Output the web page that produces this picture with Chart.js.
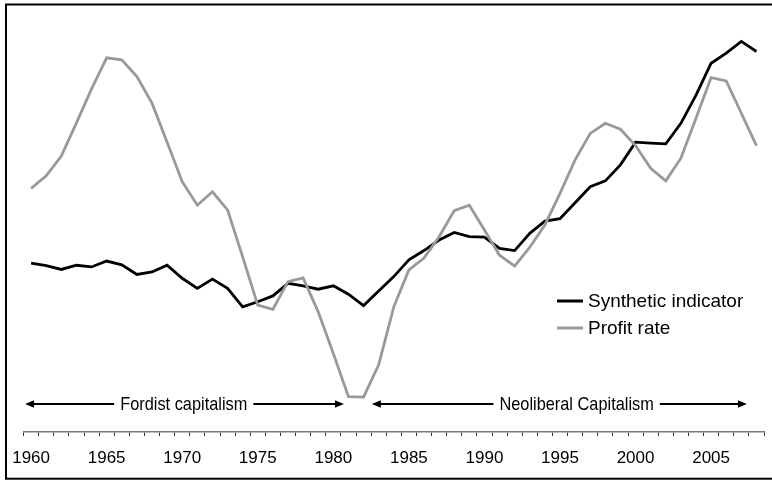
<!DOCTYPE html>
<html><head><meta charset="utf-8">
<script src="https://cdn.jsdelivr.net/npm/chart.js@4/dist/chart.umd.min.js"></script>
<style>html,body{margin:0;padding:0;background:#fff}#wrap{position:relative;width:772px;height:481px}</style>
</head><body><div id="wrap"><canvas id="c" width="772" height="481"></canvas></div>
<script>
const years = [1960,1961,1962,1963,1964,1965,1966,1967,1968,1969,1970,1971,1972,1973,1974,1975,1976,1977,1978,1979,1980,1981,1982,1983,1984,1985,1986,1987,1988,1989,1990,1991,1992,1993,1994,1995,1996,1997,1998,1999,2000,2001,2002,2003,2004,2005,2006,2007,2008];
const synthetic = [40.2,39.6,38.7,39.7,39.3,40.7,39.8,37.5,38.1,39.7,36.6,34.2,36.4,34.2,29.8,31.0,32.4,35.4,34.8,34.0,34.8,32.8,30.1,33.6,37.0,41.0,43.2,45.7,47.5,46.5,46.4,43.7,43.2,47.3,50.2,50.8,54.6,58.4,59.8,63.6,69.0,68.8,68.6,73.5,80.2,87.8,90.2,93.0,90.6];
const profitRate = [58.0,61.0,65.7,73.6,81.7,89.1,88.6,84.6,78.3,69.0,59.6,54.0,57.2,52.9,41.7,30.2,29.2,35.8,36.7,28.6,18.7,8.4,8.3,16.0,29.8,38.6,41.4,46.5,52.7,54.0,48.1,42.1,39.5,44.0,49.3,56.8,64.8,71.1,73.5,72.1,68.2,62.8,59.8,65.2,74.7,84.4,83.6,75.9,68.2];
const seriesNames = ['Synthetic indicator','Profit rate'];
const labeledYears = [1960,1965,1970,1975,1980,1985,1990,1995,2000,2005];
const periodLabels = ['Fordist capitalism','Neoliberal Capitalism'];
const periodStart = [1959.6, 1982.55];
const periodEnd = [1980.7, 2007.37];
const periodLabelAt = [1970.1, 1996.1];

const REG = '"Liberation Sans",Arial,sans-serif';

function arrowHead(ctx, x, y, dir) {
  ctx.beginPath();
  ctx.moveTo(x, y);
  ctx.lineTo(x - dir * 9, y - 3.8);
  ctx.lineTo(x - dir * 9, y + 3.8);
  ctx.closePath();
  ctx.fill();
}

const decor = {
  id: 'decor',
  beforeDraw(chart) {
    const ctx = chart.ctx;
    ctx.save();
    ctx.fillStyle = '#fff';
    ctx.fillRect(0, 0, chart.width, chart.height);
    ctx.restore();
  },
  afterDraw(chart) {
    const ctx = chart.ctx;
    const xs = chart.scales.x;
    ctx.save();
    // frame
    ctx.strokeStyle = '#000';
    ctx.lineWidth = 2;
    ctx.strokeRect(6, 4.5, 800, 474.2);
    // legend
    const ds = chart.data.datasets;
    const legY = [301, 328];
    ctx.font = '19px ' + REG;
    ctx.textBaseline = 'middle';
    ctx.textAlign = 'left';
    ds.forEach((d, i) => {
      ctx.strokeStyle = d.borderColor;
      ctx.lineWidth = 3;
      ctx.beginPath();
      ctx.moveTo(557, legY[i]);
      ctx.lineTo(583, legY[i]);
      ctx.stroke();
      ctx.fillStyle = '#000';
      ctx.fillText(d.label, 588, legY[i] + 1);
    });
    // period arrows
    const y = 404;
    const sx = 0.86;
    ctx.font = '19px ' + REG;
    ctx.textAlign = 'center';
    ctx.fillStyle = '#000';
    ctx.strokeStyle = '#000';
    ctx.lineWidth = 2;
    periodLabels.forEach((lab, i) => {
      const x1 = xs.getPixelForValue(periodStart[i] - years[0]);
      const x2 = xs.getPixelForValue(periodEnd[i] - years[0]);
      const xc = xs.getPixelForValue(periodLabelAt[i] - years[0]);
      const w = ctx.measureText(lab).width * sx;
      const gap = 6;
      ctx.beginPath();
      ctx.moveTo(x1 + 4, y); ctx.lineTo(xc - w / 2 - gap, y);
      ctx.moveTo(xc + w / 2 + gap, y); ctx.lineTo(x2 - 4, y);
      ctx.stroke();
      arrowHead(ctx, x1, y, -1);
      arrowHead(ctx, x2, y, 1);
      ctx.save();
      ctx.translate(xc, y + 1);
      ctx.scale(sx, 1);
      ctx.fillText(lab, 0, 0);
      ctx.restore();
    });
    ctx.restore();
  }
};

new Chart(document.getElementById('c'), {
  type: 'line',
  data: {
    labels: years,
    datasets: [
      { label: seriesNames[0], data: synthetic, borderColor: '#000000', borderWidth: 2.8, pointRadius: 0, tension: 0, order: 1 },
      { label: seriesNames[1], data: profitRate, borderColor: '#999999', borderWidth: 2.8, pointRadius: 0, tension: 0, order: 0 }
    ]
  },
  options: {
    responsive: false,
    animation: false,
    devicePixelRatio: 1,
    layout: { padding: { left: 20, right: 8, top: 12, bottom: 0 } },
    plugins: { legend: { display: false }, tooltip: { enabled: false } },
    scales: {
      x: {
        type: 'category',
        offset: true,
        afterFit(scale) { scale.height = 49; },
        grid: { display: true, offset: true, drawOnChartArea: false, drawTicks: true, tickLength: 4, color: '#333', lineWidth: 1 },
        border: { display: true, color: '#777', width: 1.5 },
        ticks: {
          autoSkip: false, maxRotation: 0, minRotation: 0, padding: 12,
          color: '#000', font: { family: REG, size: 17 },
          callback(value, index) { const yv = years[index]; return labeledYears.includes(yv) ? String(yv) : ''; }
        }
      },
      y: { display: false, min: 0, max: 100 }
    }
  },
  plugins: [decor]
});
</script></body></html>
